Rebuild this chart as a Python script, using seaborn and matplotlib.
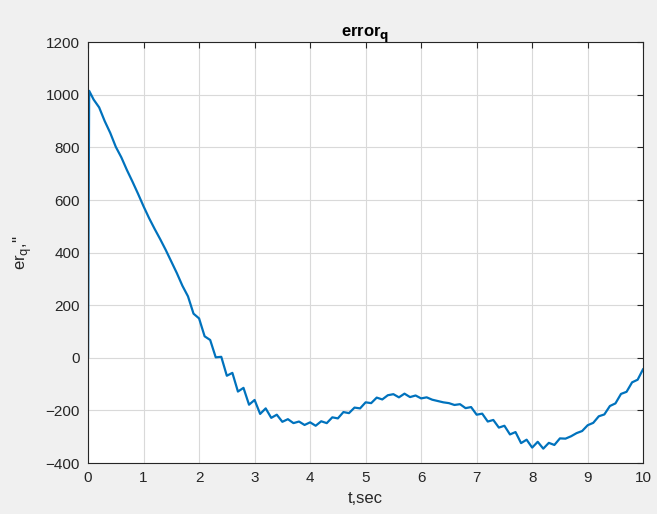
import numpy as np
import pandas as pd
import matplotlib
matplotlib.use('Agg')
import matplotlib.pyplot as plt
import seaborn as sns

# time samples (sec) and error values
t_sec = [0.0, 0.02, 0.1, 0.2, 0.3, 0.4, 0.5, 0.6, 0.7, 0.8, 0.9,
         1.0, 1.1, 1.2, 1.3, 1.4, 1.5, 1.6, 1.7, 1.8, 1.9,
         2.0, 2.1, 2.2, 2.3, 2.4, 2.5, 2.6, 2.7, 2.8, 2.9,
         3.0, 3.1, 3.2, 3.3, 3.4, 3.5, 3.6, 3.7, 3.8, 3.9,
         4.0, 4.1, 4.2, 4.3, 4.4, 4.5, 4.6, 4.7, 4.8, 4.9,
         5.0, 5.1, 5.2, 5.3, 5.4, 5.5, 5.6, 5.7, 5.8, 5.9,
         6.0, 6.1, 6.2, 6.3, 6.4, 6.5, 6.6, 6.7, 6.8, 6.9,
         7.0, 7.1, 7.2, 7.3, 7.4, 7.5, 7.6, 7.7, 7.8, 7.9,
         8.0, 8.1, 8.2, 8.3, 8.4, 8.5, 8.6, 8.7, 8.8, 8.9,
         9.0, 9.1, 9.2, 9.3, 9.4, 9.5, 9.6, 9.7, 9.8, 9.9, 10.0]
err_q = [0, 1015, 982, 952, 900, 855, 802, 762, 714, 670, 624,
         576, 531, 490, 451, 410, 366, 322, 274, 234, 168,
         150, 82, 68, 2, 4, -68, -57, -128, -114, -178,
         -160, -213, -192, -228, -216, -243, -233, -248, -242, -255,
         -245, -258, -241, -248, -226, -230, -206, -210, -189, -192,
         -169, -172, -151, -158, -142, -138, -150, -136, -149, -143,
         -154, -150, -159, -164, -169, -172, -179, -176, -191, -187,
         -216, -212, -242, -236, -265, -258, -291, -282, -324, -311,
         -341, -319, -345, -323, -331, -306, -307, -298, -286, -278,
         -256, -247, -222, -215, -183, -173, -137, -129, -93, -83, -42]

df = pd.DataFrame({'t': t_sec, 'er': err_q})

sns.set_style('whitegrid')
plt.rcParams['font.family'] = ['Liberation Sans', 'DejaVu Sans']
plt.rcParams['xtick.direction'] = 'in'
plt.rcParams['ytick.direction'] = 'in'

fig = plt.figure(figsize=(6.57, 5.14), dpi=100, facecolor='#f0f0f0')
ax = fig.add_axes([0.134, 0.099, 0.845, 0.819])
ax.set_facecolor('white')

sns.lineplot(data=df, x='t', y='er', ax=ax, color='#0072BD', linewidth=1.6,
             sort=False, estimator=None, solid_joinstyle='round')

ax.set_xlim(0, 10)
ax.set_ylim(-400, 1200)
ax.set_xticks(range(0, 11))
ax.set_yticks(range(-400, 1201, 200))
ax.grid(True, color='#d9d9d9', linewidth=0.8)
ax.tick_params(axis='both', which='both', labelsize=11, colors='#262626',
               length=4, width=0.8, top=True, right=True, pad=6)
for s in ax.spines.values():
    s.set_color('#262626')
    s.set_linewidth(0.8)

ax.set_title(r'error$_{\mathbf{q}}$', fontsize=12, fontweight='bold', color='#000000', pad=4)
ax.set_xlabel('t,sec', fontsize=12, color='#262626', labelpad=4)
ax.set_ylabel(r"er$_{\mathrm{q}}$,''", fontsize=12, color='#262626', labelpad=8)

fig.savefig('out.png', dpi=100, facecolor=fig.get_facecolor())
